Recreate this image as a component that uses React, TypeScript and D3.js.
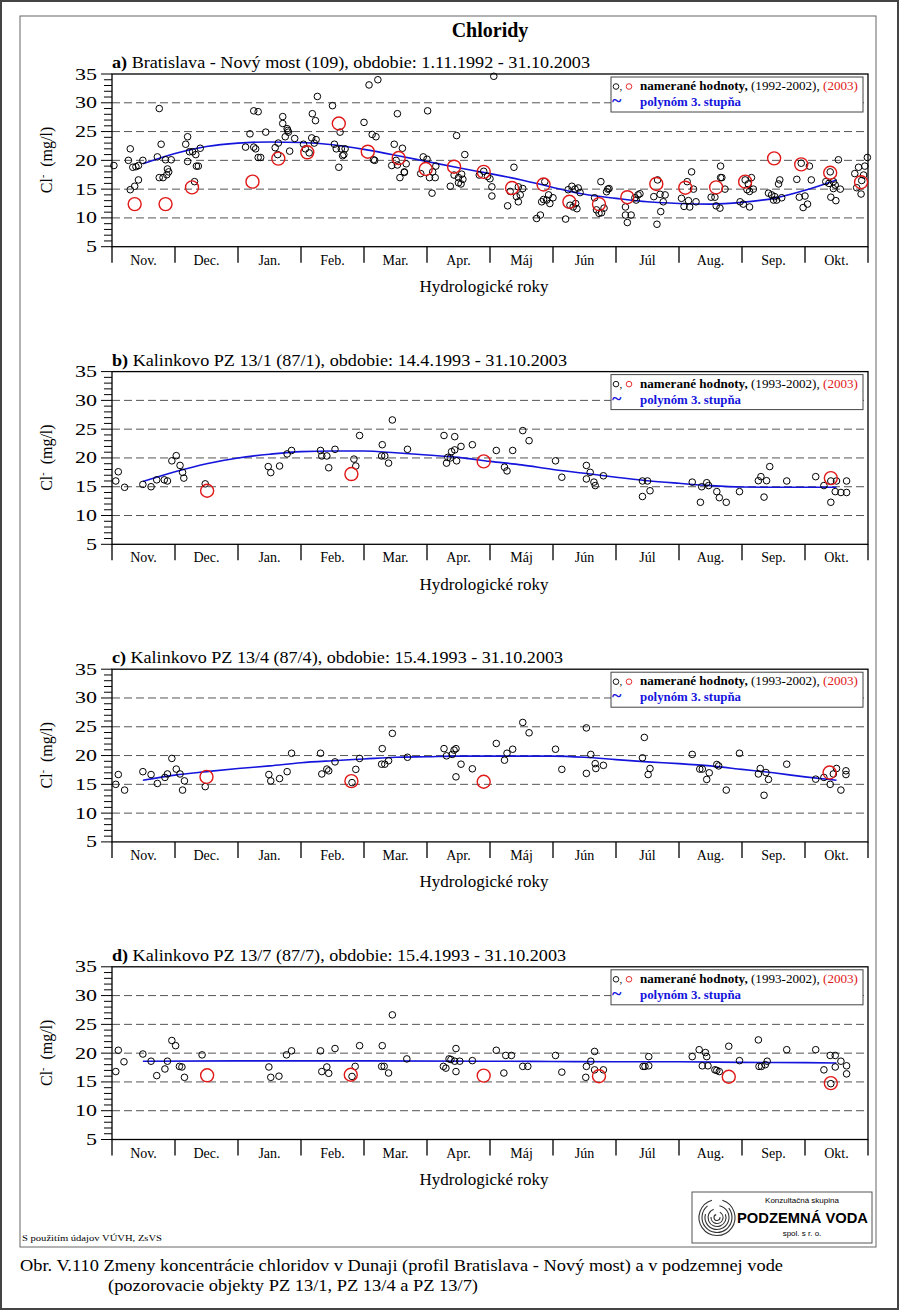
import React from 'react';
import * as d3 from 'd3';

type P = [number, number];

const MONTHS = ['Nov.', 'Dec.', 'Jan.', 'Feb.', 'Mar.', 'Apr.', 'Máj', 'Jún', 'Júl', 'Aug.', 'Sep.', 'Okt.'];
const Y_TICKS = [5, 10, 15, 20, 25, 30, 35];
const GRID_VALUES = [10, 15, 20, 25, 30];
const MINOR_TICKS = d3.range(5, 36);

// x = month offset in hydrological year (0 = 1 Nov), y = Cl- mg/l
const A_HIST: P[] = [
  [0.03,19.1],[0.26,20.0],[0.29,22.0],[0.29,14.9],[0.33,18.8],[0.36,15.5],[0.38,18.9],[0.42,19.1],[0.42,16.6],[0.49,20.0],
  [0.72,20.6],[0.75,29.0],[0.78,22.8],[0.75,17.0],[0.81,17.0],[0.85,20.1],[0.87,17.5],[0.9,18.0],[0.88,18.5],[0.94,20.1],
  [1.17,22.8],[1.2,24.1],[1.2,19.8],[1.23,21.5],[1.28,21.5],[1.33,21.0],[1.34,19.0],[1.37,19.0],[1.31,16.3],[1.4,22.1],
  [2.12,22.3],[2.19,24.6],[2.25,28.6],[2.32,28.45],[2.25,22.3],[2.28,22.0],[2.32,20.5],[2.36,20.5],[2.44,24.9],[2.59,22.2],
  [2.63,21.0],[2.64,23.0],[2.71,27.6],[2.71,26.4],[2.75,24.1],[2.78,25.5],[2.79,25.2],[2.8,24.9],[2.82,21.6],[2.9,23.8],
  [3.04,22.8],[3.07,22.0],[3.13,21.3],[3.18,28.1],[3.17,23.9],[3.21,23.0],[3.23,26.9],[3.24,23.6],[3.26,31.1],[3.5,29.5],
  [3.53,22.8],[3.56,22.0],[3.6,18.8],[3.62,24.9],[3.66,20.8],[3.68,21.0],[3.64,22.0],[3.7,22.0],
  [4.0,26.6],[4.08,33.1],[4.13,24.5],[4.19,24.1],[4.15,20.1],[4.17,20.0],[4.22,34.0],[4.48,22.8],[4.44,19.1],[4.53,28.1],
  [4.53,19.2],[4.51,20.0],[4.61,22.1],[4.57,17.0],[4.64,17.9],[4.67,19.4],[4.64,18.0],
  [4.9,17.7],[4.94,20.6],[5.0,20.2],[5.01,28.6],[5.04,17.0],[5.08,14.3],[5.09,18.0],[5.13,17.0],[5.14,19.0],[5.37,15.5],
  [5.43,17.45],[5.47,24.3],[5.5,17.0],[5.5,16.1],[5.54,15.9],[5.57,16.7],[5.6,21.0],[5.55,17.6],
  [5.83,17.45],[5.96,17.2],[5.9,18.1],[6.03,15.4],[6.03,13.8],[6.0,16.8],[6.06,34.6],[6.28,12.1],[6.32,14.6],[6.38,18.8],
  [6.42,13.7],[6.45,12.8],[6.48,14.0],[6.52,15.1],[6.45,15.4],
  [6.74,9.9],[6.8,10.5],[6.82,12.8],[6.87,16.3],[6.9,13.1],[6.93,14.0],[7.0,13.5],[6.95,12.5],[6.85,13.2],
  [7.2,9.8],[7.24,14.9],[7.3,15.5],[7.35,15.0],[7.4,15.2],[7.43,14.4],[7.27,12.2],[7.32,11.9],[7.38,11.6],[7.36,12.5],
  [7.66,13.5],[7.69,11.4],[7.73,10.8],[7.77,10.9],[7.81,11.7],[7.76,16.3],[7.85,14.55],[7.89,15.1],[7.87,15.0],
  [8.15,11.9],[8.15,10.5],[8.24,10.5],[8.18,9.2],[8.3,13.5],[8.32,13.1],[8.35,14.0],[8.38,14.2],
  [8.6,13.7],[8.7,14.1],[8.78,14.0],[8.75,12.8],[8.71,11.1],[8.65,8.9],[8.66,16.6],
  [9.04,13.4],[9.13,16.3],[9.2,18.0],[9.23,15.0],[9.17,11.9],[9.27,12.8],[9.08,12.0],[9.15,13.0],
  [9.51,13.6],[9.57,13.6],[9.59,12.1],[9.65,11.7],[9.66,19.0],[9.66,17.0],[9.68,17.0],[9.73,15.0],
  [9.97,12.8],[10.02,12.4],[10.12,11.9],[10.05,16.6],[10.15,17.0],[10.1,15.9],[10.18,15.0],[10.08,14.9],[10.12,14.6],
  [10.42,14.3],[10.47,14.0],[10.52,13.7],[10.5,13.1],[10.55,13.1],[10.63,13.5],[10.6,16.6],[10.58,15.9],
  [10.87,16.7],[10.94,19.5],[11.07,19.0],[11.1,16.6],[11.0,13.8],[11.04,12.4],[10.97,11.8],[10.91,13.6],
  [11.53,20.1],[11.33,16.3],[11.38,16.0],[11.45,16.3],[11.48,15.7],[11.45,15.1],[11.56,15.0],[11.41,13.6],[11.49,13.0],[11.4,18.0],
  [11.99,20.5],[11.79,17.7],[11.85,18.8],[11.95,19.0],[11.93,17.45],[11.89,14.15],[11.82,15.25],[11.9,16.5],
];
const A_2003: P[] = [
  [0.36,12.4],[0.85,12.4],[1.27,15.3],[2.23,16.3],[2.64,20.3],[3.1,21.4],[3.6,26.4],[4.06,21.5],[4.55,20.4],[4.98,18.5],
  [5.43,18.9],[5.9,18.0],[6.35,15.2],[6.85,15.8],[7.26,12.8],[7.73,12.4],[8.18,13.6],[8.64,15.9],[9.1,15.25],[9.59,15.3],
  [10.05,16.3],[10.51,20.35],[10.94,19.3],[11.4,17.85],[11.89,16.2],
];
const A_FIT: P[] = [
  [0.49,19.4],[1,21.2],[1.5,22.4],[2,23.0],[2.5,23.2],[3,23.1],[3.5,22.7],[4,21.9],[4.5,20.9],[5,19.8],[5.5,18.7],
  [6,17.7],[6.5,16.6],[7,15.3],[7.5,14.1],[8,13.4],[8.5,12.8],[9,12.5],[9.5,12.4],[10,12.7],[10.5,13.4],[11,14.8],[11.5,16.6],
];

const B_HIST: P[] = [
  [0.06,16.0],[0.1,17.6],[0.2,14.9],[0.49,15.4],[0.62,15.0],[0.71,16.2],[0.83,16.2],[0.88,16.0],[0.95,19.5],[1.02,20.4],[1.08,18.7],[1.12,17.5],[1.14,16.5],[1.48,15.5],
  [2.48,18.5],[2.52,17.45],[2.66,18.6],[2.78,20.7],[2.85,21.3],[3.31,21.3],[3.33,20.35],[3.41,20.35],[3.44,18.3],[3.54,21.5],[3.84,19.8],[3.87,18.6],[3.93,23.9],
  [4.29,22.3],[4.28,20.35],[4.33,20.35],[4.39,19.1],[4.45,26.6],[4.69,21.5],
  [5.27,23.9],[5.31,19.1],[5.33,20.1],[5.37,20.0],[5.39,21.1],[5.44,23.7],[5.44,21.4],[5.47,19.5],[5.54,22.0],[5.72,22.3],
  [6.1,21.3],[6.36,21.3],[6.23,18.4],[6.27,17.75],[6.52,24.75],[6.62,23.0],
  [7.04,19.5],[7.14,16.65],[7.53,18.7],[7.59,17.5],[7.53,16.35],[7.65,15.8],[7.67,15.2],[7.8,16.9],
  [8.42,16.0],[8.5,16.0],[8.54,14.3],[8.42,13.3],
  [9.21,15.8],[9.36,15.0],[9.44,15.7],[9.47,15.2],[9.34,12.3],[9.6,14.15],[9.64,13.1],[9.75,12.3],[9.96,14.15],
  [10.26,16.05],[10.3,16.75],[10.39,16.05],[10.44,18.5],[10.35,13.2],[10.71,16.0],
  [11.17,16.75],[11.41,16.0],[11.5,16.0],[11.66,16.0],[11.3,15.2],[11.48,14.15],[11.57,14.0],[11.66,14.0],[11.41,12.3],
];
const B_2003: P[] = [[1.51,14.3],[3.8,17.2],[5.9,19.4],[11.41,16.5]];
const B_FIT: P[] = [
  [0.49,15.9],[1,17.6],[1.5,19.0],[2,20.0],[2.5,20.65],[3,21.1],[3.5,21.2],[4,21.2],[4.5,20.9],[5,20.5],[5.5,20.1],
  [6,19.4],[6.5,18.8],[7,18.0],[7.5,17.35],[8,16.65],[8.5,16.05],[9,15.6],[9.5,15.2],[10,14.95],[10.5,14.9],[11,14.9],[11.5,14.9],
];

const C_HIST: P[] = [
  [0.06,15.0],[0.1,16.7],[0.2,14.0],[0.49,17.2],[0.62,16.7],[0.72,15.15],[0.84,16.2],[0.88,16.8],[0.95,19.5],[1.02,17.65],[1.08,16.8],[1.12,14.0],[1.15,15.6],[1.48,14.6],
  [2.49,16.7],[2.52,15.6],[2.66,16.0],[2.78,17.2],[2.85,20.4],[3.31,20.4],[3.33,16.8],[3.41,17.65],[3.44,17.35],[3.54,18.9],[3.81,15.3],[3.87,17.6],[3.93,19.5],
  [4.29,21.2],[4.28,18.5],[4.33,18.5],[4.39,19.1],[4.45,23.85],[4.69,19.7],
  [5.27,21.2],[5.31,19.95],[5.4,20.2],[5.43,20.95],[5.46,21.2],[5.54,18.5],[5.46,16.3],[5.72,17.7],
  [6.1,22.1],[6.23,19.2],[6.27,20.4],[6.36,21.1],[6.52,25.75],[6.62,23.95],
  [7.04,21.1],[7.14,17.6],[7.53,24.8],[7.6,20.2],[7.53,16.9],[7.67,18.6],[7.68,17.75],[7.8,18.3],
  [8.45,23.15],[8.42,19.6],[8.54,17.75],[8.51,16.7],
  [9.21,20.2],[9.33,17.65],[9.37,17.65],[9.48,17.0],[9.44,15.85],[9.6,18.45],[9.63,18.2],[9.75,14.0],[9.96,20.4],
  [10.26,16.8],[10.29,17.75],[10.38,17.05],[10.42,15.85],[10.35,13.1],[10.71,18.5],
  [11.17,15.9],[11.3,16.2],[11.4,15.0],[11.45,16.8],[11.5,17.75],[11.57,14.0],[11.65,17.35],[11.65,16.7],
];
const C_2003: P[] = [[1.5,16.3],[3.8,15.55],[5.9,15.45],[11.39,17.05]];
const C_FIT: P[] = [
  [0.49,15.7],[1,16.6],[1.5,17.2],[2,17.75],[2.5,18.2],[3,18.75],[3.5,19.1],[4,19.4],[4.5,19.7],[5,19.8],[5.5,19.9],
  [6,19.9],[6.5,19.9],[7,19.9],[7.5,19.7],[8,19.3],[8.5,18.9],[9,18.6],[9.5,18.2],[10,17.6],[10.5,17.0],[11,16.3],[11.5,15.7],
];

const D_HIST: P[] = [
  [0.06,16.8],[0.1,20.5],[0.19,18.5],[0.49,19.85],[0.62,18.6],[0.71,16.1],[0.84,17.25],[0.88,18.6],[0.95,22.2],[1.01,21.3],[1.07,17.7],[1.11,17.6],[1.15,15.8],[1.43,19.7],
  [2.49,17.6],[2.52,15.8],[2.65,16.0],[2.77,19.7],[2.85,20.4],[3.31,20.4],[3.33,16.8],[3.41,17.6],[3.44,16.5],[3.54,20.8],[3.81,15.95],[3.86,17.7],[3.93,21.3],
  [4.29,21.3],[4.28,17.7],[4.32,17.7],[4.39,16.55],[4.45,26.65],[4.68,19.0],
  [5.26,17.7],[5.3,17.4],[5.35,19.0],[5.46,20.8],[5.38,18.9],[5.44,18.6],[5.52,18.6],[5.46,16.8],[5.72,18.7],
  [6.1,20.5],[6.22,16.55],[6.25,19.6],[6.34,19.6],[6.52,17.7],[6.6,17.7],
  [7.04,19.6],[7.14,16.7],[7.52,15.8],[7.53,17.7],[7.6,18.6],[7.66,20.3],[7.66,17.1],[7.8,17.1],
  [8.43,17.7],[8.46,17.7],[8.52,17.8],[8.52,19.4],
  [9.21,19.4],[9.32,20.6],[9.37,17.8],[9.46,17.8],[9.44,19.4],[9.42,20.1],[9.57,17.1],[9.6,17.0],[9.64,16.8],[9.79,21.2],[9.96,18.7],
  [10.26,22.3],[10.27,17.7],[10.31,17.7],[10.37,18.0],[10.4,18.6],[10.71,20.6],
  [11.17,20.6],[11.3,17.1],[11.41,14.7],[11.4,19.6],[11.48,19.6],[11.48,17.6],[11.57,18.6],[11.66,17.8],[11.66,16.4],
];
const D_2003: P[] = [[1.51,16.15],[3.79,16.25],[5.9,16.1],[7.73,16.0],[9.79,15.9],[11.41,14.8]];
const D_FIT: P[] = [
  [0.49,18.6],[2,18.65],[4,18.65],[6,18.6],[7,18.55],[8,18.5],[9,18.5],[10,18.4],[11,18.35],[11.5,18.3],
];

const PANEL_LABELS = ['a)', 'b)', 'c)', 'd)'];
const PANEL_TITLES = [
  ' Bratislava - Nový most (109), obdobie: 1.11.1992 - 31.10.2003',
  ' Kalinkovo PZ 13/1 (87/1), obdobie: 14.4.1993 - 31.10.2003',
  ' Kalinkovo PZ 13/4 (87/4), obdobie: 15.4.1993 - 31.10.2003',
  ' Kalinkovo PZ 13/7 (87/7), obdobie: 15.4.1993 - 31.10.2003',
];
const PANEL_TITLE_WIDTHS = [478, 455, 451, 454];
const LEGEND_PERIODS = ['(1992-2002),', '(1993-2002),', '(1993-2002),', '(1993-2002),'];
const HIST = [A_HIST, B_HIST, C_HIST, D_HIST];
const Y2003 = [A_2003, B_2003, C_2003, D_2003];
const FITS = [A_FIT, B_FIT, C_FIT, D_FIT];

const SERIF = '"Liberation Serif", "Times New Roman", serif';
const SANS = '"Liberation Sans", Arial, sans-serif';
const LEFT = 112;
const RIGHT = 868;
const PH = 172.7;
const TOP0 = 74;
const STEP = 297.6;
const BLUE = '#1414dc';
const RED = '#e01818';

function Panel({ i }: { i: number }) {
  const top = TOP0 + STEP * i;
  const x = d3.scaleLinear().domain([0, 12]).range([LEFT, RIGHT]);
  const y = d3.scaleLinear().domain([5, 35]).range([top + PH, top]);
  const bottom = top + PH;
  const line = d3.line<P>().x(d => x(d[0])).y(d => y(d[1])).curve(d3.curveMonotoneX);
  const lx = 611, ly = top + 3;
  return (
    <g>
      <text x={LEFT} y={top - 6} fontFamily={SERIF} fontSize={17} textLength={PANEL_TITLE_WIDTHS[i]} lengthAdjust="spacingAndGlyphs">
        <tspan fontWeight="bold">{PANEL_LABELS[i]}</tspan>{PANEL_TITLES[i]}
      </text>
      {GRID_VALUES.map(v => (
        <line key={v} x1={LEFT} x2={RIGHT} y1={y(v)} y2={y(v)} stroke="#555" strokeWidth={1} strokeDasharray="8 4" />
      ))}
      <rect x={LEFT} y={top} width={RIGHT - LEFT} height={PH} fill="none" stroke="#000" strokeWidth={1.3} />
      {MINOR_TICKS.map(v => (
        <line key={v} x1={v % 5 === 0 ? LEFT - 11 : LEFT - 8} x2={LEFT} y1={y(v)} y2={y(v)} stroke="#000" strokeWidth={1} />
      ))}
      {Y_TICKS.map(v => (
        <text key={v} x={97} y={y(v) + 5.5} textAnchor="end" fontFamily={SERIF} fontSize={16}
          textLength={String(v).length * 11} lengthAdjust="spacingAndGlyphs">{v}</text>
      ))}
      {d3.range(0, 13).map(m => (
        <line key={m} x1={x(m)} x2={x(m)} y1={bottom} y2={bottom + 16} stroke="#000" strokeWidth={1.3} />
      ))}
      {MONTHS.map((mo, k) => (
        <text key={mo} x={x(k + 0.5)} y={bottom + 18} textAnchor="middle" fontFamily={SERIF} fontSize={14}>{mo}</text>
      ))}
      <text x={484} y={top + 218} textAnchor="middle" fontFamily={SERIF} fontSize={17}>Hydrologické roky</text>
      <text transform={`translate(52,${top + 86}) rotate(-90)`} textAnchor="middle" fontFamily={SERIF} fontSize={16}>
        Cl<tspan dy={-6} fontSize={10}>-</tspan><tspan dy={6}>{'\u00a0\u00a0(mg/l)'}</tspan>
      </text>
      <path d={line(FITS[i]) || ''} fill="none" stroke={BLUE} strokeWidth={1.6} />
      {HIST[i].map((d, k) => (
        <circle key={k} cx={x(d[0])} cy={y(d[1])} r={3.3} fill="none" stroke="#000" strokeWidth={1} />
      ))}
      {Y2003[i].map((d, k) => (
        <circle key={'r' + k} cx={x(d[0])} cy={y(d[1])} r={6.5} fill="none" stroke={RED} strokeWidth={1.4} />
      ))}
      <rect x={lx} y={ly} width={252} height={35} fill="#fff" stroke="#444" strokeWidth={1} />
      <circle cx={lx + 5} cy={ly + 9.5} r={2.8} fill="none" stroke="#000" strokeWidth={0.9} />
      <text x={lx + 8.5} y={ly + 13} fontFamily={SERIF} fontSize={11}>,</text>
      <circle cx={lx + 18} cy={ly + 9.5} r={2.8} fill="none" stroke={RED} strokeWidth={0.9} />
      <text x={lx + 29} y={ly + 13} fontFamily={SERIF} fontSize={11.5} textLength={218} lengthAdjust="spacingAndGlyphs">
        <tspan fontWeight="bold">namerané hodnoty, </tspan>{LEGEND_PERIODS[i] + ' '}<tspan fill={RED}>(2003)</tspan>
      </text>
      <text x={lx + 1} y={ly + 30} fontFamily={SERIF} fontSize={18} fill={BLUE} fontWeight="bold">~</text>
      <text x={lx + 29} y={ly + 29} fontFamily={SERIF} fontSize={11.5} fill={BLUE} fontWeight="bold" textLength={101} lengthAdjust="spacingAndGlyphs">polynóm 3. stupňa</text>
    </g>
  );
}

function Logo() {
  const cx = 717, cy = 1217.5;
  const arc = d3.arc<any>();
  const rings = [
    { r: 18, a0: 0.3, a1: 6.0 },
    { r: 15, a0: 0.9, a1: 5.6 },
    { r: 12, a0: 0.2, a1: 5.0 },
    { r: 9, a0: 1.2, a1: 5.9 },
    { r: 6, a0: 0.5, a1: 4.8 },
    { r: 3, a0: 1.5, a1: 6.0 },
  ];
  return (
    <g>
      <rect x={692} y={1192} width={180} height={51} fill="#fff" stroke="#555" strokeWidth={1} />
      <g transform={`translate(${cx},${cy})`}>
        {rings.map((rg, k) => (
          <path key={k} d={arc({ innerRadius: rg.r, outerRadius: rg.r, startAngle: rg.a0, endAngle: rg.a1 }) || ''}
            fill="none" stroke="#333" strokeWidth={1.1} />
        ))}
      </g>
      <text x={802} y={1203} textAnchor="middle" fontFamily={SANS} fontSize={8}>Konzultačná skupina</text>
      <text x={737} y={1223} fontFamily={SANS} fontSize={14} fontWeight="bold" textLength={131} lengthAdjust="spacingAndGlyphs">PODZEMNÁ VODA</text>
      <text x={802} y={1236} textAnchor="middle" fontFamily={SANS} fontSize={8}>spol. s r. o.</text>
    </g>
  );
}

export default function App() {
  return (
    <div style={{ position: 'absolute', left: 0, top: 0 }}>
      <svg width={900} height={1311} viewBox="0 0 900 1311" style={{ display: 'block', background: '#fff' }}>
        <rect x={0} y={0} width={900} height={1311} fill="#fff" />
        <rect x={1} y={1} width={897} height={1308} fill="none" stroke="#444" strokeWidth={2} />
        <rect x={20} y={16} width={856} height={1231} fill="none" stroke="#666" strokeWidth={1} />
        <text x={490} y={37} textAnchor="middle" fontFamily={SERIF} fontSize={20} fontWeight="bold">Chloridy</text>
        {[0, 1, 2, 3].map(i => <Panel key={i} i={i} />)}
        <Logo />
        <text x={22} y={1241} fontFamily={SERIF} fontSize={9} textLength={140} lengthAdjust="spacingAndGlyphs">S použitím údajov VÚVH, ZsVS</text>
        <text x={20} y={1271} fontFamily={SERIF} fontSize={17} textLength={763} lengthAdjust="spacingAndGlyphs">
          Obr. V.110 Zmeny koncentrácie chloridov v Dunaji (profil Bratislava - Nový most) a v podzemnej vode
        </text>
        <text x={108} y={1291} fontFamily={SERIF} fontSize={17} textLength={370} lengthAdjust="spacingAndGlyphs">
          (pozorovacie objekty PZ 13/1, PZ 13/4 a PZ 13/7)
        </text>
      </svg>
    </div>
  );
}
